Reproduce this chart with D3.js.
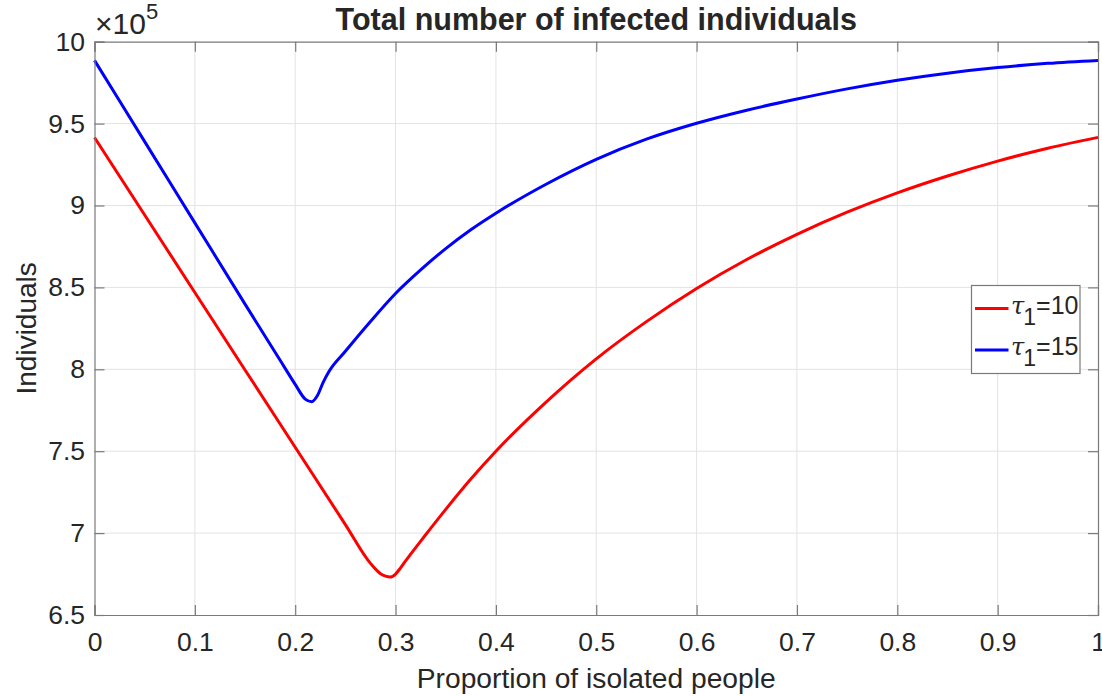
<!DOCTYPE html>
<html>
<head>
<meta charset="utf-8">
<script src="https://cdn.jsdelivr.net/npm/d3@7/dist/d3.min.js"></script>
<style>
  html, body { margin: 0; padding: 0; background: #fff; }
  svg { display: block; }
  text { font-family: "Liberation Sans", Arial, Helvetica, sans-serif; fill: #262626; }
</style>
</head>
<body>
<svg id="chart" width="1102" height="696"></svg>
<script>
// Proportion of isolated people (x) and total infected (in units of 1e5)
const propTau10 = [0, 0.05, 0.1, 0.15, 0.2, 0.25, 0.275, 0.285, 0.29, 0.295, 0.3, 0.305, 0.31, 0.33, 0.35, 0.375, 0.4, 0.45, 0.5, 0.55, 0.6, 0.65, 0.7, 0.75, 0.8, 0.85, 0.9, 0.95, 1.0];
const infectedTau10 = [9.415, 8.942, 8.469, 7.996, 7.524, 7.052, 6.815, 6.752, 6.737, 6.732, 6.750, 6.788, 6.830, 6.990, 7.145, 7.330, 7.500, 7.800, 8.064, 8.291, 8.493, 8.670, 8.824, 8.959, 9.077, 9.180, 9.271, 9.350, 9.416];

const propTau15 = [0, 0.05, 0.1, 0.15, 0.185, 0.2, 0.21, 0.2165, 0.222, 0.228, 0.2335, 0.25, 0.275, 0.3, 0.325, 0.35, 0.375, 0.4, 0.45, 0.5, 0.55, 0.6, 0.65, 0.7, 0.75, 0.8, 0.85, 0.9, 0.95, 1.0];
const infectedTau15 = [9.886, 9.390, 8.894, 8.398, 8.055, 7.908, 7.818, 7.802, 7.838, 7.922, 7.985, 8.11, 8.292, 8.463, 8.607, 8.737, 8.852, 8.953, 9.13, 9.282, 9.405, 9.502, 9.582, 9.650, 9.712, 9.765, 9.808, 9.842, 9.868, 9.886];

const xTicks = [0, 0.1, 0.2, 0.3, 0.4, 0.5, 0.6, 0.7, 0.8, 0.9, 1];
const yTicks = [6.5, 7, 7.5, 8, 8.5, 9, 9.5, 10];

const seriesNames = ["10", "15"];
const seriesColors = ["#ff0000", "#0000ff"];

const svg = d3.select("#chart");
const plotLeft = 94.5, plotRight = 1098, plotTop = 41.7, plotBottom = 615;

const x = d3.scaleLinear().domain([0, 1]).range([plotLeft, plotRight]);
const y = d3.scaleLinear().domain([6.5, 10]).range([plotBottom, plotTop]);

// grid lines
const grid = svg.append("g").attr("stroke", "#e3e3e3").attr("stroke-width", 1);
grid.selectAll("line.vx").data(xTicks.slice(1, -1)).join("line")
  .attr("x1", d => x(d)).attr("x2", d => x(d)).attr("y1", plotTop).attr("y2", plotBottom);
grid.selectAll("line.hy").data(yTicks.slice(1, -1)).join("line")
  .attr("y1", d => y(d)).attr("y2", d => y(d)).attr("x1", plotLeft).attr("x2", plotRight);

// series curves
const line = d3.line().x(d => x(d[0])).y(d => y(d[1])).curve(d3.curveMonotoneX);
const series = [
  d3.zip(propTau10, infectedTau10),
  d3.zip(propTau15, infectedTau15)
];
svg.append("g").selectAll("path").data(series).join("path")
  .attr("d", line)
  .attr("fill", "none")
  .attr("stroke", (d, i) => seriesColors[i])
  .attr("stroke-width", 3)
  .attr("stroke-linejoin", "round");

// axes (ticks pointing inward, mirrored on top/right)
const tickLen = 10;
const axisColor = "#7a7a7a";
const fmt = d => d3.format("~g")(d);

const xAxis = svg.append("g").attr("transform", `translate(0,${plotBottom})`)
  .call(d3.axisBottom(x).tickValues(xTicks).tickSize(-tickLen).tickPadding(17).tickFormat(fmt));
const xAxisTop = svg.append("g").attr("transform", `translate(0,${plotTop})`)
  .call(d3.axisTop(x).tickValues(xTicks).tickSize(-tickLen).tickFormat(""));
const yAxis = svg.append("g").attr("transform", `translate(${plotLeft},0)`)
  .call(d3.axisLeft(y).tickValues(yTicks).tickSize(-tickLen).tickPadding(9.5).tickFormat(fmt));
const yAxisRight = svg.append("g").attr("transform", `translate(${plotRight},0)`)
  .call(d3.axisRight(y).tickValues(yTicks).tickSize(-tickLen).tickFormat(""));

[xAxis, xAxisTop, yAxis, yAxisRight].forEach(g => {
  g.select(".domain").attr("stroke", axisColor).attr("stroke-width", 1.2);
  g.selectAll(".tick line").attr("stroke", axisColor).attr("stroke-width", 1.2);
  g.selectAll(".tick text").attr("fill", "#262626")
    .style("font-size", "26.5px")
    .style("font-family", "'Liberation Sans', Arial, Helvetica, sans-serif");
});

// exponent label
const expo = svg.append("text").attr("x", 95).attr("y", 34).style("font-size", "30px");
expo.append("tspan").text("\u00d710");
expo.append("tspan").attr("dy", -15).style("font-size", "22px").text("5");

// title and axis labels
svg.append("text").attr("x", (plotLeft + plotRight) / 2).attr("y", 29.5)
  .attr("text-anchor", "middle").style("font-size", "30.5px").style("font-weight", "bold")
  .attr("fill", "#000").text("Total number of infected individuals");

svg.append("text").attr("x", (plotLeft + plotRight) / 2).attr("y", 688)
  .attr("text-anchor", "middle").style("font-size", "28.2px")
  .text("Proportion of isolated people");

svg.append("text").attr("transform", `translate(36,${(plotTop + plotBottom) / 2}) rotate(-90)`)
  .attr("text-anchor", "middle").style("font-size", "28px")
  .text("Individuals");

// legend
const lg = svg.append("g");
lg.append("rect").attr("x", 971.5).attr("y", 285.5).attr("width", 108.5).attr("height", 88)
  .attr("fill", "#fff").attr("stroke", "#7a7a7a").attr("stroke-width", 1.2);
const rows = lg.selectAll("g.row").data(seriesNames).join("g")
  .attr("transform", (d, i) => `translate(0,${308.5 + i * 41.5})`);
rows.append("line").attr("x1", 975).attr("x2", 1008.5).attr("y1", 0).attr("y2", 0)
  .attr("stroke", (d, i) => seriesColors[i]).attr("stroke-width", 3);
const lt = rows.append("text").attr("x", 1011).attr("y", 5).style("font-size", "25px");
lt.append("tspan").style("font-family", "'DejaVu Serif', 'Liberation Serif', serif")
  .style("font-style", "italic").style("font-size", "24px").text("\u03c4");
lt.append("tspan").attr("dy", 11).attr("dx", -1).style("font-size", "23px").text("1");
lt.append("tspan").attr("dy", -11).text(d => "=" + d);
</script>
</body>
</html>
